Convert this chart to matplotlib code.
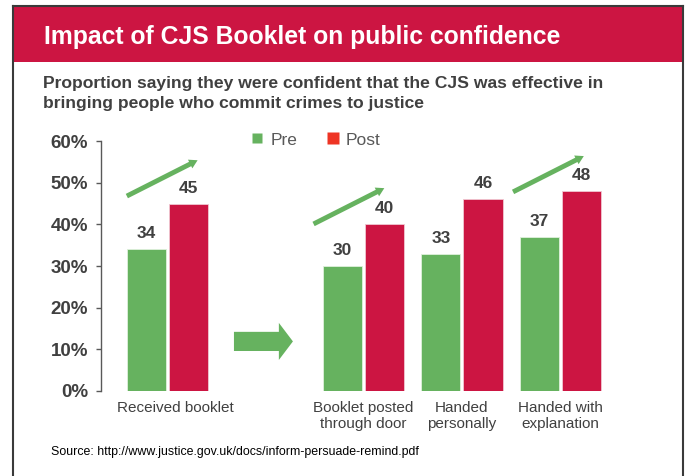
import matplotlib.pyplot as plt
import matplotlib.patches as mpatches
from matplotlib.lines import Line2D
from matplotlib.transforms import ScaledTranslation

plt.rcParams['font.family'] = ['Liberation Sans', 'DejaVu Sans']

categories = ['Received booklet', 'Booklet posted\nthrough door',
              'Handed\npersonally', 'Handed with\nexplanation']
positions = [0, 2, 3, 4]
pre = [34, 30, 33, 37]
post = [45, 40, 46, 48]
yticks = [0, 10, 20, 30, 40, 50, 60]
ytick_labels = ['0%', '10%', '20%', '30%', '40%', '50%', '60%']

# rising arrows drawn over some of the groups (start x, start y)
trend_x0 = [-0.41, 1.49, 3.52]
trend_y0 = [46.8, 40.1, 47.8]

green = '#66B25F'
crimson = '#CC1542'
legend_red = '#EE3424'
text_grey = '#404040'

fig = plt.figure(figsize=(6.87, 4.76), dpi=100)

# panel frame and title banner
fig.patches.append(mpatches.Rectangle((0.0189, 0.8697), 0.9753, 0.1177,
                                      transform=fig.transFigure,
                                      facecolor=crimson, edgecolor='none'))
for xs, ys in [([0.0185, 0.0185], [-0.05, 0.9874]),
               ([0.0185, 0.9945], [0.9874, 0.9874]),
               ([0.9945, 0.9945], [-0.05, 0.9874])]:
    fig.lines.append(Line2D(xs, ys, transform=fig.transFigure,
                            color='#3a3a3a', lw=1.5))

fig.text(0.064, 0.9076, 'Impact of CJS Booklet on public confidence',
         color='white', fontsize=17.8, fontweight='bold', va='baseline')
fig.text(0.063, 0.815,
         'Proportion saying they were confident that the CJS was effective in',
         color=text_grey, fontsize=12.6, fontweight='bold', va='baseline')
fig.text(0.063, 0.773, 'bringing people who commit crimes to justice',
         color=text_grey, fontsize=12.6, fontweight='bold', va='baseline')
fig.text(0.0742, 0.0504,
         'Source: http://www.justice.gov.uk/docs/inform-persuade-remind.pdf',
         color='black', fontsize=8.9, va='center')

ax = fig.add_axes([0.147, 0.1786, 0.7686, 0.525])

width = 0.398
offset = 0.214
pre_x = [p - offset for p in positions]
post_x = [p + offset for p in positions]
ax.bar(pre_x, pre, width=width, color=green, edgecolor='#dff0dc', linewidth=0.6)
ax.bar(post_x, post, width=width, color=crimson, edgecolor='#f0c8d2', linewidth=0.6)

for x, v in zip(pre_x, pre):
    ax.text(x, v + 3.7, str(v), ha='center', va='center',
            fontsize=12.5, fontweight='bold', color=text_grey)
for x, v in zip(post_x, post):
    ax.text(x, v + 3.7, str(v), ha='center', va='center',
            fontsize=12.5, fontweight='bold', color=text_grey)

# slanted arrows showing the increase
for x0, y0 in zip(trend_x0, trend_y0):
    ax.annotate('', xy=(x0 + 0.72, y0 + 8.6), xytext=(x0, y0),
                annotation_clip=False,
                arrowprops=dict(arrowstyle='simple,head_length=0.6,head_width=0.7,tail_width=0.35',
                                mutation_scale=10, color=green, lw=0,
                                shrinkA=0, shrinkB=0))

# block arrow between the overall result and the breakdown
ax.add_patch(mpatches.FancyArrow(0.68, 11.9, 0.6, 0, width=4.6, head_width=8.9,
                                 head_length=0.143, length_includes_head=True,
                                 color=green, lw=0))

ax.set_xlim(-0.673, 4.7)
ax.set_ylim(0, 60)
ax.set_yticks(yticks)
ax.set_yticklabels(ytick_labels, fontsize=13.5, fontweight='bold', color=text_grey)
ax.set_xticks(positions)
ax.set_xticklabels(categories, fontsize=11, color=text_grey)
ax.tick_params(axis='x', length=0, pad=7)
ax.tick_params(axis='y', length=3.6, width=1, color='#595959', pad=5.5)
# first label sits slightly right of its bars
first = ax.get_xticklabels()[0]
first.set_transform(first.get_transform() + ScaledTranslation(0.08, 0, fig.dpi_scale_trans))

for side in ['top', 'right', 'bottom']:
    ax.spines[side].set_visible(False)
ax.spines['left'].set_color('#595959')
ax.spines['left'].set_linewidth(1)

handles = [Line2D([], [], marker='s', linestyle='none', markersize=6.5,
                  markerfacecolor=green, markeredgecolor='none', label='Pre'),
           Line2D([], [], marker='s', linestyle='none', markersize=9,
                  markerfacecolor=legend_red, markeredgecolor='none', label='Post')]
fig.legend(handles=handles, loc='center', bbox_to_anchor=(0.46, 0.706), ncol=2,
           frameon=False, fontsize=12.5, labelcolor='#595959',
           handlelength=0.7, handletextpad=0.4, columnspacing=1.7)

plt.savefig('out.png', dpi=100)
